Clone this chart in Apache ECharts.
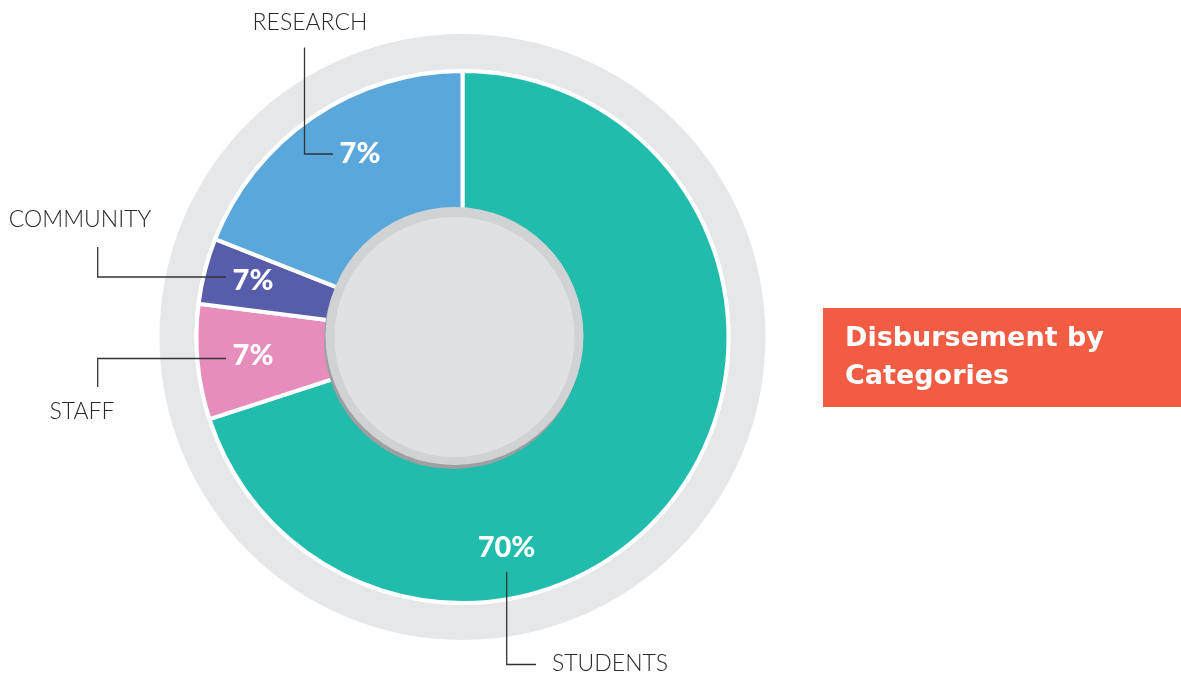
<!DOCTYPE html>
<html><head><meta charset="utf-8">
<script src="https://cdn.jsdelivr.net/npm/echarts@6/dist/echarts.min.js"></script>
<style>html,body{margin:0;padding:0;background:#fff}#chart{width:1181px;height:674px}</style>
</head><body><div id="chart"></div>
<script>
// ---- data ----
const categories = ['STUDENTS', 'STAFF', 'COMMUNITY', 'RESEARCH'];
const values = [70, 7, 4, 19];               // slice sizes as drawn
const percentLabels = ['70%', '7%', '7%', '7%']; // label texts as printed
const titleText = 'Disbursement by\nCategories';

// ---- styles / layout ----
const colors = ['#21bcac', '#e68dbb', '#575dab', '#5aa8db'];
const CENTER = [462.5, 337];
const innerPos = [[506.5, 548], [253, 356], [253, 281], [360, 154]];
const outerLabel = [
  { x: 552, y: 664, align: 'left',   line: [[506.7, 572], [506.7, 664.5], [536, 664.5]] },
  { x: 82,  y: 412, align: 'center', line: [[226, 358.5], [97.7, 358.5], [97.7, 387]] },
  { x: 80,  y: 220, align: 'center', line: [[226, 277], [97.7, 277], [97.7, 247]] },
  { x: 310, y: 23,  align: 'center', line: [[333, 154], [304.5, 154], [304.5, 47.5]] }
];

const chart = echarts.init(document.getElementById('chart'), null, { renderer: 'canvas' });
const sliceData = categories.map((c, i) => ({ name: c, value: values[i], itemStyle: { color: colors[i] } }));

function disc(center, r, color) {
  return {
    type: 'pie', silent: true, center: center, radius: [0, r], z: 4,
    label: { show: false }, labelLine: { show: false }, emphasis: { disabled: true },
    itemStyle: { color: color, borderWidth: 0 },
    data: [{ value: 1 }]
  };
}

const option = {
  animation: false,
  backgroundColor: '#ffffff',
  title: {
    text: titleText, left: 823, top: 308,
    backgroundColor: '#f15c43',
    padding: [12, 200, 11, 22],
    textStyle: { color: '#ffffff', fontFamily: 'DejaVu Sans', fontWeight: 'bold', fontSize: 27, lineHeight: 38 }
  },
  series: [
    {
      type: 'pie', silent: true, center: CENTER, radius: [268, 303], z: 1,
      label: { show: false }, labelLine: { show: false }, emphasis: { disabled: true },
      itemStyle: { color: '#e6e7e8', borderWidth: 0 },
      data: [{ value: 1 }]
    },
    {
      type: 'pie', center: CENTER, radius: [118, 266], startAngle: 90, clockwise: true, z: 2,
      avoidLabelOverlap: false, emphasis: { disabled: true },
      itemStyle: { borderColor: '#ffffff', borderWidth: 4 },
      label: {
        show: true, position: 'inside',
        formatter: p => percentLabels[p.dataIndex],
        color: '#ffffff', fontFamily: 'Lato', fontWeight: 900, fontSize: 29
      },
      labelLine: { show: false },
      labelLayout: p => ({ x: innerPos[p.dataIndex][0], y: innerPos[p.dataIndex][1], align: 'center', verticalAlign: 'middle' }),
      data: sliceData
    },
    {
      type: 'pie', silent: true, center: CENTER, radius: [118, 266], z: 10,
      avoidLabelOverlap: false, emphasis: { disabled: true },
      itemStyle: { color: 'rgba(0,0,0,0)', borderWidth: 0 },
      label: {
        show: true, position: 'outside', formatter: '{b}',
        color: '#2a2a2a', fontFamily: 'Lato', fontWeight: 300, fontSize: 23
      },
      labelLine: { show: true, lineStyle: { color: '#333333', width: 1.3 } },
      labelLayout: p => {
        const o = outerLabel[p.dataIndex];
        return { x: o.x, y: o.y, align: o.align, verticalAlign: 'middle', labelLinePoints: o.line };
      },
      data: categories.map((c, i) => ({ name: c, value: values[i] }))
    },
    disc([453, 340], 129, '#9d9fa2'),
    disc([454.5, 336], 129, '#d1d2d4'),
    disc([454.5, 337], 120, '#e0e1e3')
  ]
};
chart.setOption(option);
</script>
</body></html>
